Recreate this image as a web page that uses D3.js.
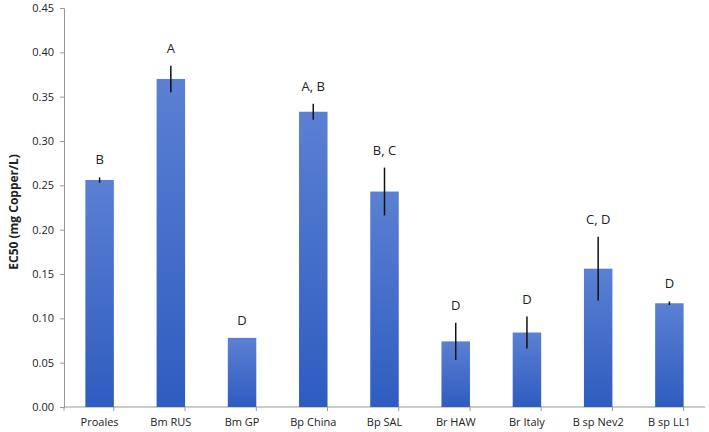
<!DOCTYPE html>
<html>
<head>
<meta charset="utf-8">
<script src="https://cdn.jsdelivr.net/npm/d3@7"></script>
<style>
  body { margin: 0; background: #fff; }
  svg text { font-family: "Open Sans", "Noto Sans", sans-serif; fill: #222; }
</style>
</head>
<body>
<div id="vis"></div>
<script>
// data
var strains = ['Proales', 'Bm RUS', 'Bm GP', 'Bp China', 'Bp SAL', 'Br HAW', 'Br Italy', 'B sp Nev2', 'B sp LL1'];
var ec50 = [0.256, 0.370, 0.078, 0.333, 0.243, 0.074, 0.084, 0.156, 0.117];
var errs = [0.003, 0.015, 0, 0.009, 0.027, 0.021, 0.018, 0.036, 0.002];
var groups = ['B', 'A', 'D', 'A, B', 'B, C', 'D', 'D', 'C, D', 'D'];
var yTicks = [0, 0.05, 0.10, 0.15, 0.20, 0.25, 0.30, 0.35, 0.40, 0.45];

var width = 709, height = 432;
var margin = { top: 8, right: 4, bottom: 25, left: 64 };

var svg = d3.select('#vis').append('svg')
    .attr('width', width)
    .attr('height', height);

var defs = svg.append('defs');
var grad = defs.append('linearGradient')
    .attr('id', 'barFill')
    .attr('x1', 0).attr('y1', 0).attr('x2', 0).attr('y2', 1);
grad.append('stop').attr('offset', '0%').attr('stop-color', '#5b80d3');
grad.append('stop').attr('offset', '100%').attr('stop-color', '#2e5cc0');

var x = d3.scaleBand()
    .domain(strains)
    .range([margin.left, width - margin.right])
    .paddingInner(0.6)
    .paddingOuter(0.3);

var y = d3.scaleLinear()
    .domain([0, 0.45])
    .range([height - margin.bottom, margin.top]);

// y axis
var yAxis = svg.append('g')
    .attr('transform', 'translate(' + margin.left + ',0)')
    .call(d3.axisLeft(y).tickValues(yTicks).tickFormat(d3.format('.2f')).tickSize(4).tickPadding(6));
yAxis.select('.domain').attr('stroke', '#999');
yAxis.selectAll('.tick line').attr('stroke', '#999');
yAxis.selectAll('.tick text').style('font-size', '11px').attr('fill', '#222');

// x axis: ticks between categories like the original
var xAxis = svg.append('g')
    .attr('transform', 'translate(0,' + y(0) + ')');
xAxis.append('line')
    .attr('x1', margin.left).attr('x2', width - margin.right)
    .attr('stroke', '#999');
var step = x.step();
var bounds = d3.range(strains.length + 1).map(function (i) {
  return x(strains[0]) - x.paddingOuter() * step - x.paddingInner() * step / 2 + i * step;
});
xAxis.selectAll('.sep')
    .data(bounds)
  .enter().append('line')
    .attr('class', 'sep')
    .attr('x1', function (d) { return Math.max(d, margin.left); })
    .attr('x2', function (d) { return Math.max(d, margin.left); })
    .attr('y1', 0).attr('y2', 4)
    .attr('stroke', '#999');
xAxis.selectAll('.lbl')
    .data(strains)
  .enter().append('text')
    .attr('class', 'lbl')
    .attr('x', function (d) { return x(d) + x.bandwidth() / 2; })
    .attr('y', 19)
    .attr('text-anchor', 'middle')
    .style('font-size', '11px')
    .text(function (d) { return d; });

// bars
var rows = strains.map(function (s, i) {
  return { name: s, value: ec50[i], err: errs[i], grp: groups[i] };
});

svg.selectAll('.bar')
    .data(rows)
  .enter().append('rect')
    .attr('class', 'bar')
    .attr('x', function (d) { return x(d.name); })
    .attr('y', function (d) { return y(d.value); })
    .attr('width', x.bandwidth())
    .attr('height', function (d) { return y(0) - y(d.value); })
    .attr('fill', 'url(#barFill)');

// error bars
svg.selectAll('.err')
    .data(rows.filter(function (d) { return d.err > 0; }))
  .enter().append('line')
    .attr('class', 'err')
    .attr('x1', function (d) { return x(d.name) + x.bandwidth() / 2; })
    .attr('x2', function (d) { return x(d.name) + x.bandwidth() / 2; })
    .attr('y1', function (d) { return y(d.value + d.err); })
    .attr('y2', function (d) { return y(d.value - d.err); })
    .attr('stroke', '#111')
    .attr('stroke-width', 1.5);

// significance letters
svg.selectAll('.grp')
    .data(rows)
  .enter().append('text')
    .attr('class', 'grp')
    .attr('x', function (d) { return x(d.name) + x.bandwidth() / 2; })
    .attr('y', function (d) { return y(d.value + d.err) - 13; })
    .attr('text-anchor', 'middle')
    .style('font-size', '13px')
    .text(function (d) { return d.grp; });

// y title
svg.append('text')
    .attr('transform', 'translate(18,' + (y(0.22)) + ') rotate(-90)')
    .attr('text-anchor', 'middle')
    .style('font-size', '12px')
    .style('font-weight', 'bold')
    .text('EC50 (mg Copper/L)');
</script>
</body>
</html>
